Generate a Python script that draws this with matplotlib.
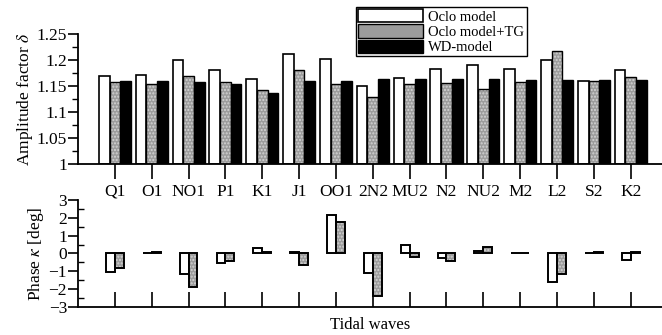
import numpy as np
import matplotlib.pyplot as plt
from matplotlib.ticker import MultipleLocator

plt.rcParams['font.family'] = ['Liberation Serif', 'DejaVu Serif']
plt.rcParams['mathtext.fontset'] = 'stix'

waves = ['Q1', 'O1', 'NO1', 'P1', 'K1', 'J1', 'OO1', '2N2', 'MU2', 'N2',
         'NU2', 'M2', 'L2', 'S2', 'K2']

# amplitude factor delta
amp_oclo = [1.168, 1.170, 1.199, 1.181, 1.163, 1.210, 1.202, 1.149, 1.164, 1.182,
            1.190, 1.182, 1.200, 1.159, 1.180]
amp_oclo_tg = [1.157, 1.154, 1.168, 1.157, 1.141, 1.180, 1.153, 1.128, 1.153, 1.156,
               1.144, 1.158, 1.216, 1.159, 1.167]
amp_wd = [1.159, 1.159, 1.157, 1.153, 1.137, 1.160, 1.159, 1.162, 1.162, 1.162,
          1.162, 1.161, 1.161, 1.161, 1.161]

# phase kappa [deg]
ph_oclo = [-1.03, 0.05, -1.18, -0.55, 0.32, 0.07, 2.16, -1.09, 0.45, -0.28,
           0.15, 0.04, -1.6, 0.05, -0.38]
ph_oclo_tg = [-0.8, 0.08, -1.88, -0.43, 0.08, -0.66, 1.78, -2.4, -0.22, -0.41,
              0.34, 0.03, -1.16, 0.1, 0.1]

x = np.arange(len(waves))
gray = '#9c9c9c'
speck = '#d4d4d4'

fig = plt.figure(figsize=(6.62, 3.35), dpi=100)
ax1 = fig.add_axes([0.118, 0.51, 0.882, 0.39])
ax2 = fig.add_axes([0.118, 0.084, 0.882, 0.319])

# top panel: amplitude
w = 0.29
ax1.bar(x - w, np.array(amp_oclo) - 1, w, bottom=1, color='white', edgecolor='black', lw=1.2,
        label='Oclo model')
# speckled gray fill, then the black outline on top
ax1.bar(x, np.array(amp_oclo_tg) - 1, w, bottom=1, color=gray, edgecolor=speck, lw=0,
        hatch='.....')
ax1.bar(x, np.array(amp_oclo_tg) - 1, w, bottom=1, fill=False, edgecolor='black', lw=1.0)
ax1.bar([np.nan], [0], w, color=gray, edgecolor='black', lw=1.0, label='Oclo model+TG')
ax1.bar(x + w, np.array(amp_wd) - 1, w, bottom=1, color='black', edgecolor='black', lw=1.0,
        label='WD-model')

ax1.set_xlim(-1, 14.85)
ax1.set_ylim(1, 1.25)
ax1.set_yticks([1, 1.05, 1.1, 1.15, 1.2, 1.25])
ax1.set_yticklabels(['1', '1.05', '1.1', '1.15', '1.2', '1.25'])
ax1.yaxis.set_minor_locator(MultipleLocator(0.025))
ax1.set_xticks(x)
ax1.set_xticklabels(waves)
ax1.tick_params(axis='x', direction='out', length=11, width=1.2, labelsize=12.5, pad=3)
ax1.tick_params(axis='y', which='major', direction='out', length=7, width=1.2, labelsize=12.5, pad=1)
ax1.tick_params(axis='y', which='minor', direction='out', length=4, width=1.0)
ax1.set_ylabel(r'Amplitude factor $\delta$', fontsize=12.5, labelpad=1)
for s in ['top', 'right']:
    ax1.spines[s].set_visible(False)
for s in ['left', 'bottom']:
    ax1.spines[s].set_linewidth(1.3)

# bottom panel: phase
wp = 0.24
ax2.bar(x - wp / 2, ph_oclo, wp, color='white', edgecolor='black', lw=1.4)
ax2.bar(x + wp / 2, ph_oclo_tg, wp, color=gray, edgecolor=speck, lw=0, hatch='.....')
ax2.bar(x + wp / 2, ph_oclo_tg, wp, fill=False, edgecolor='black', lw=1.4)
ax2.set_xlim(-1, 14.85)
ax2.set_ylim(-3, 3)
ax2.set_yticks(range(-3, 4))
ax2.yaxis.set_minor_locator(MultipleLocator(0.5))
ax2.set_xticks(x)
ax2.set_xticklabels([])
ax2.tick_params(axis='x', direction='in', length=11, width=1.2)
ax2.tick_params(axis='y', which='major', direction='out', length=7, width=1.2, labelsize=12.5, pad=1)
ax2.tick_params(axis='y', which='minor', direction='in', length=4, width=1.0)
ax2.set_ylabel(r'Phase $\kappa$ [deg]', fontsize=12.5, labelpad=2)
ax2.set_xlabel('Tidal waves', fontsize=12, labelpad=4)
for s in ['top', 'right']:
    ax2.spines[s].set_visible(False)
for s in ['left', 'bottom']:
    ax2.spines[s].set_linewidth(1.3)

leg = fig.legend(loc='upper left', bbox_to_anchor=(0.538, 0.979), fontsize=10.5,
                 handlelength=4.4, handleheight=1.0, handletextpad=0.4,
                 labelspacing=0.05, borderpad=0.15, borderaxespad=0, fancybox=False,
                 framealpha=1, edgecolor='black')
leg.get_frame().set_linewidth(1.0)

fig.savefig('out.png', dpi=100)
